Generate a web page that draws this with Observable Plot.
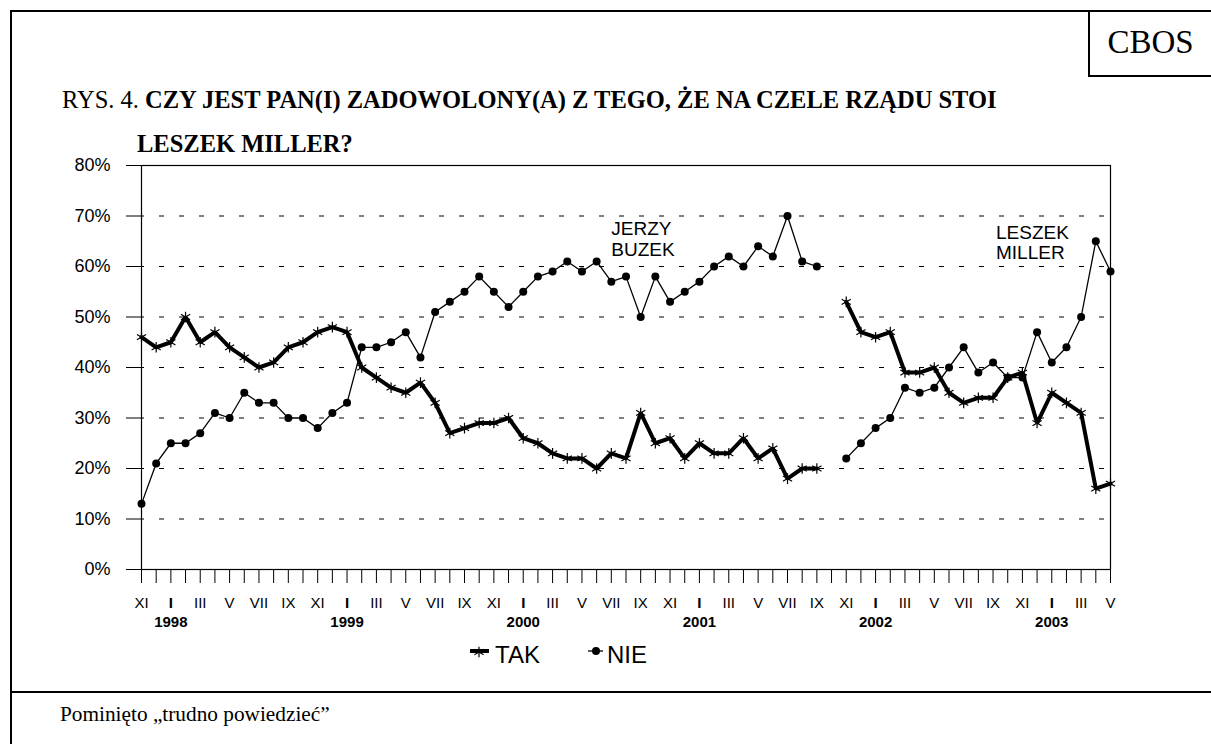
<!DOCTYPE html>
<html>
<head>
<meta charset="utf-8">
<script src="https://cdn.jsdelivr.net/npm/d3@7"></script>
<script src="https://cdn.jsdelivr.net/npm/@observablehq/plot@0.6"></script>
<style>
  html, body { margin: 0; padding: 0; background: white; }
  #page { position: relative; width: 1211px; height: 744px; overflow: hidden; background: white; }
  .abs { position: absolute; }
  .serif { font-family: "Liberation Serif", "Times New Roman", serif; color: black; }
  .sans { font-family: "Liberation Sans", Arial, sans-serif; color: black; }
</style>
</head>
<body>
<div id="page">
  <div id="chart" class="abs" style="left:0;top:0;"></div>
  <div class="abs" style="left:10px;top:10px;width:1400px;height:900px;border-left:2px solid black;border-top:2px solid black;"></div>
  <div class="abs" style="left:10px;top:691px;width:1400px;height:0;border-top:2px solid black;"></div>
  <div class="abs serif" style="left:1088px;top:10px;width:200px;height:65px;border-left:2px solid black;border-bottom:2px solid black;"></div>
  <div class="abs serif" style="left:1090px;top:21px;width:121px;text-align:center;font-size:33px;line-height:42px;">CBOS</div>
  <div class="abs serif" style="left:62px;top:85px;font-size:24.5px;line-height:30px;white-space:nowrap;">RYS. 4. <b>CZY JEST PAN(I) ZADOWOLONY(A) Z TEGO, ŻE NA CZELE RZĄDU STOI</b></div>
  <div class="abs serif" style="left:137px;top:129px;font-size:24.5px;line-height:30px;white-space:nowrap;"><b>LESZEK MILLER?</b></div>
  <div id="legend" class="abs sans" style="left:0;top:0;"></div>
  <div class="abs serif" style="left:60px;top:700px;font-size:21.3px;line-height:28px;white-space:nowrap;">Pominięto „trudno powiedzieć”</div>
</div>
<script>
// ---- data (monthly, XI 1997 – V 2003; X 2001 missing) ----
const startMonth = 11;       // XI
const startYear = 1997;
const romans = ["I","II","III","IV","V","VI","VII","VIII","IX","X","XI","XII"];
const years = ["1998","1999","2000","2001","2002","2003"];
const yTicks = [0,10,20,30,40,50,60,70,80];
const gridTicks = [10,20,30,40,50,60,70];

const tak = [46,44,45,50,45,47,44,42,40,41,44,45,47,48,47,40,38,
             36,35,37,33,27,28,29,29,30,26,25,23,22,22,20,23,
             22,31,25,26,22,25,23,23,26,22,24,18,20,20,
             null,
             53,47,46,47,39,39,40,35,33,34,34,38,39,29,35,33,31,16,17];
const nie = [13,21,25,25,27,31,30,35,33,33,30,30,28,31,33,44,44,
             45,47,42,51,53,55,58,55,52,55,58,59,61,59,61,57,
             58,50,58,53,55,57,60,62,60,64,62,70,61,60,
             null,
             22,25,28,30,36,35,36,40,44,39,41,38,38,47,41,44,50,65,59];

const rows = tak.map((t, i) => ({i, tak: t ?? NaN, nie: nie[i] ?? NaN}));
const idx = d3.range(tak.length);
const monthOf = i => (startMonth - 1 + i) % 12;
const januaries = idx.filter(i => monthOf(i) === 0);

const chart = Plot.plot({
  width: 1211,
  height: 640,
  marginTop: 165,
  marginLeft: 141,
  marginRight: 101,
  marginBottom: 71,
  style: {background: "transparent", fontFamily: "Liberation Sans, Arial, sans-serif", color: "black", overflow: "visible"},
  x: {type: "linear", domain: [0, tak.length - 1]},
  y: {domain: [0, 80]},
  marks: [
    Plot.gridY(gridTicks, {stroke: "black", strokeOpacity: 1, strokeWidth: 1, strokeDasharray: "5,15", strokeDashoffset: 2}),
    Plot.frame({stroke: "black", strokeWidth: 1.2}),
    Plot.axisY(yTicks, {tickSize: 15, tickPadding: 16, tickFormat: d => d + "%", fontSize: 18, label: null, strokeWidth: 1}),
    Plot.axisX(idx, {tickSize: 14, tickPadding: 14, fontSize: 15, label: null,
      tickFormat: i => { const m = monthOf(i); return (m % 2 === 0 && m !== 0) ? romans[m] : ""; }}),
    Plot.axisX(januaries, {tickSize: 0, tickPadding: 28, fontSize: 15, fontWeight: "bold", label: null,
      tickFormat: i => romans[monthOf(i)]}),
    Plot.text(januaries, {x: d => d, text: (d, k) => years[k], frameAnchor: "bottom", dy: 57, fontSize: 15, fontWeight: "bold"}),
    Plot.line(rows, {x: "i", y: "nie", stroke: "black", strokeWidth: 1.3}),
    Plot.dot(rows, {x: "i", y: "nie", r: 4, fill: "black", stroke: null}),
    Plot.line(rows, {x: "i", y: "tak", stroke: "black", strokeWidth: 4, strokeLinejoin: "miter"}),
    Plot.dot(rows, {x: "i", y: "tak", symbol: "asterisk", r: 5, stroke: "black", strokeWidth: 1.2}),
    Plot.text(["JERZY\nBUZEK"], {x: 32, y: 65.5, text: d => d, textAnchor: "start", fontSize: 19, lineHeight: 1.1}),
    Plot.text(["LESZEK\nMILLER"], {x: 58.2, y: 64.8, text: d => d, textAnchor: "start", fontSize: 19, lineHeight: 1.1})
  ]
});
document.getElementById("chart").appendChild(chart);

// legend
const legend = document.getElementById("legend");
legend.innerHTML = `
  <svg class="abs" style="left:468px;top:641px;" width="24" height="20">
    <line x1="2" y1="10" x2="21" y2="10" stroke="black" stroke-width="4"/>
    <path transform="translate(11,11)" d="${d3.symbol(d3.symbolAsterisk, 80)()}" stroke="black" stroke-width="1.2" fill="none"/>
  </svg>
  <div class="abs sans" style="left:495px;top:640px;font-size:24px;line-height:30px;">TAK</div>
  <svg class="abs" style="left:586px;top:641px;" width="20" height="20">
    <line x1="2" y1="10" x2="17" y2="10" stroke="black" stroke-width="1.3"/>
    <circle cx="10" cy="10" r="4" fill="black"/>
  </svg>
  <div class="abs sans" style="left:607px;top:640px;font-size:24px;line-height:30px;">NIE</div>
`;
</script>
</body>
</html>
